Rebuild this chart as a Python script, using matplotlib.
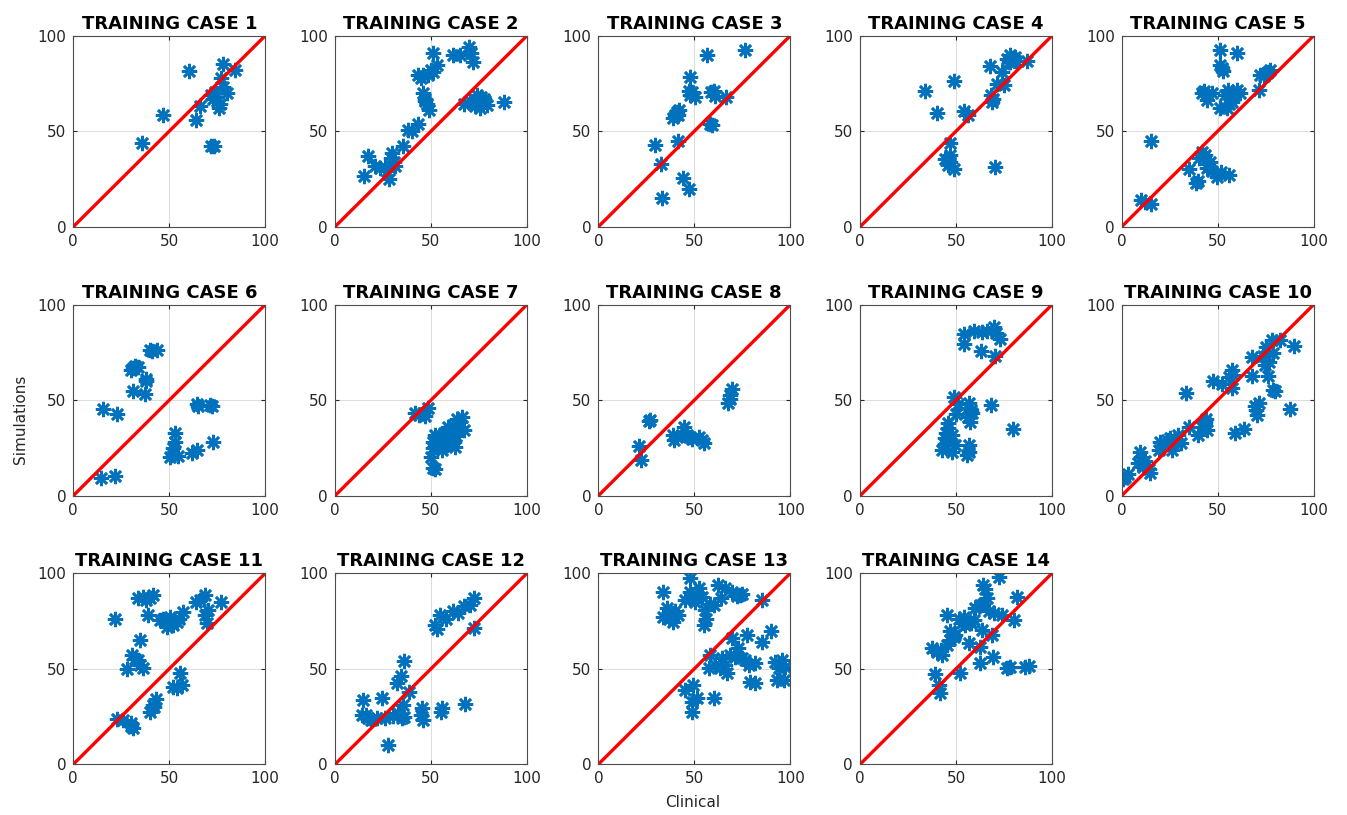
import matplotlib.pyplot as plt

# clinical (x) vs simulated (y) values per training case
case1_x = [36, 47, 60.5, 64, 66, 72, 73.5, 72, 74, 75, 76.5, 76, 78, 77, 78, 80, 84, 73]
case1_y = [43.6, 58.5, 81.5, 56, 63, 42, 42, 69, 70.5, 66, 64, 62, 85, 77.6, 73, 70, 82, 67]

case2_x = [15, 17, 21, 23.5, 26, 28, 29.5, 30.5, 31.5, 35.5, 38, 40, 43.5, 46, 48, 49,
           43.5, 46, 48.7, 51, 53, 51, 61.7, 65, 70, 72, 67, 70.4, 74, 75.7, 77.4, 79, 88, 74,
           45, 47, 50, 73, 76, 78, 29, 27, 47, 71]
case2_y = [26.7, 37, 32, 30.5, 31.5, 25, 38.5, 34, 32, 42, 50.5, 50, 54, 70, 64.5, 61,
           79.4, 79.4, 79.4, 81, 84.6, 90.7, 90, 90, 94, 86, 64.5, 66, 65.5, 62, 67, 63.7, 65.5, 69,
           78, 67, 82, 63, 68, 66, 36, 29, 66, 91]

case3_x = [33.4, 29.6, 32.7, 41.4, 44.3, 47, 39, 41, 41.7, 40, 47.5, 47, 49, 50.4,
           56.5, 76.5, 58.3, 59, 58.8, 60.9, 66.4, 42, 48, 60]
case3_y = [14.8, 42.8, 32.6, 45, 25.3, 20, 56.7, 60, 58.5, 58.5, 78.5, 71, 70.7, 68,
           90, 92.5, 54, 53, 70.7, 68.6, 68, 61, 69, 71]

case4_x = [34, 40.3, 48.7, 46.6, 47, 44.3, 46, 48.7, 54.4, 56, 67.5, 68, 68.7, 70.4,
           71.3, 74.8, 74, 76.5, 78.3, 80, 77.4, 80.9, 87, 79, 78, 81, 47, 69]
case4_y = [71, 59.3, 76.3, 43.6, 37.5, 35.4, 32.3, 30.2, 60.6, 58.5, 84.3, 69, 65.4, 31.4,
           74.5, 74.2, 81, 88, 90, 87.3, 86.4, 89, 86.7, 88.5, 86, 87, 34, 67]

case5_x = [10, 15.3, 15.3, 35.3, 38.8, 40.5, 43.5, 46, 44.3, 49.6, 52, 56, 43, 44.3, 47,
           51.3, 51.3, 52.7, 60, 51.3, 54.8, 53.9, 57.4, 55.6, 60, 61.7, 71.3, 72.2, 75.7, 77.4,
           12, 40, 42, 45, 47, 52.5, 56, 58, 42, 76, 74]
case5_y = [14, 11.7, 44.9, 30, 22.7, 35.8, 37.5, 34, 30.5, 26, 28.8, 27, 71, 66.3, 69.8,
           92.5, 84.6, 81.5, 90.7, 62, 62, 69, 65.4, 71.6, 71.6, 69.8, 71.6, 79.4, 80.3, 82,
           13, 24, 39, 33, 29, 83, 64, 69, 70, 81, 79]

case6_x = [14.3, 21.7, 15.3, 22.6, 29.9, 32, 33.9, 37.9, 31, 37.4, 40, 43.5, 64.3, 72.2,
           73, 53, 52.2, 50.4, 54.8, 61.7, 64.7, 41, 31, 53, 52, 65, 71, 38]
case6_y = [9.1, 10.3, 45.5, 42.7, 65.9, 67.7, 67.2, 61.2, 54.9, 53.1, 76.4, 76, 47.9, 46.7,
           28, 32.7, 25, 20.5, 20.8, 22.2, 23.9, 75.5, 67, 28, 21.5, 47, 47.5, 60]

case7_x = [41.7, 46, 48.7, 47, 51, 50, 51.3, 53, 56.5, 58.3, 62.6, 60.9, 63.5, 65.2, 67,
           54.8, 61.7, 51.3, 44, 52, 55, 57, 59, 60, 64, 66, 53, 56, 62, 52, 58, 63]
case7_y = [43.4, 43.4, 46, 41.6, 14.3, 20.5, 28.3, 30, 31.8, 26.5, 25.5, 33.4, 40.4, 38.6,
           34.3, 27.4, 37.1, 24.8, 42, 14, 29, 33, 36, 30, 35, 41, 26, 24, 28, 32, 27, 31]

case8_x = [21.2, 22.3, 27, 39, 39.6, 44.7, 47, 49, 52.2, 55, 67.8, 68.7, 69.6, 41, 46,
           54, 68.5, 26.5]
case8_y = [25.9, 18.7, 39.7, 31.8, 29.2, 35.8, 30.9, 29.7, 30.9, 27.4, 48.3, 52.6, 56.1,
           30.5, 32, 29, 50.5, 39]

case9_x = [42.6, 44.3, 46, 47.8, 47.8, 49.6, 48.7, 49.9, 55.7, 56.5, 57.4, 58.3, 56.5,
           68.3, 79.6, 53.9, 53.9, 59.1, 63.5, 69.6, 73, 63.1, 70.4, 44, 46, 51, 57, 58,
           45, 56, 71, 66]
case9_y = [24, 30, 35.3, 31.8, 23.1, 26.6, 51.4, 42.7, 21.3, 26.6, 38.8, 43.2, 48.3,
           47.4, 34.8, 79.4, 84.6, 86, 85.5, 88.1, 82, 75.5, 72.9, 27, 38, 48, 23, 45,
           33, 41, 85, 86]

case10_x = [0.9, 3.5, 9.6, 11, 8.7, 14.8, 19.7, 23.5, 26.1, 29.6, 30.8, 33.6, 35.3, 40,
            43.5, 44.3, 47.5, 52.2, 57.4, 57.4, 59.1, 63.5, 67.8, 67.8, 69.6, 71.3, 70.4,
            74.8, 76.5, 78.3, 79.1, 79.1, 82.6, 90, 87.8, 73.9, 27, 20, 2, 10, 12, 14,
            22, 25, 29, 42, 44, 56, 58, 70, 77, 80, 75]
case10_y = [8.7, 11.2, 23.1, 15.2, 17, 11.7, 24, 29.2, 24, 31.8, 27.4, 54, 35.7, 31.8,
            38.8, 34.4, 59.8, 58.4, 65.9, 56.3, 32.7, 34.8, 72.4, 62.4, 46.7, 48.4, 42.3,
            68.5, 62.4, 81.6, 74.7, 55.4, 81.6, 78.5, 45.5, 72.9, 27.4, 28.3, 10, 20, 18,
            14, 27, 30, 29, 36, 40, 62, 63, 45, 70, 55, 78]

case11_x = [21.7, 22.6, 26, 29.9, 31.3, 27.8, 30.4, 33.9, 36.5, 34.8, 33.9, 36.5, 41.7,
            39.1, 40, 41.4, 43.1, 45.2, 48.7, 50.4, 53.9, 57.4, 52.2, 55.7, 56.5, 64,
            68.7, 68.7, 69.6, 76.9, 38, 40, 32, 35, 42, 47, 52, 55, 66, 54, 70, 30]
case11_y = [76.1, 23.7, 23.2, 21.5, 19.2, 49.9, 57.2, 54.6, 50.3, 65.1, 86.9, 87.8, 88.7,
            78.4, 27.6, 31.1, 34.2, 75.6, 72, 77.3, 74.5, 79.9, 40.7, 47.6, 41.5, 85.2,
            88.7, 78.2, 73.8, 85, 86, 87, 55, 52, 30, 76, 73, 76, 86, 40, 81, 20]

case12_x = [14.4, 13.9, 17.4, 21.7, 24.3, 26.1, 27.8, 30.4, 32.2, 34.8, 35.7, 34.3, 35.3,
            38.3, 45.2, 46.1, 55.7, 67.8, 52.2, 54.8, 61.7, 67, 72.2, 72.2, 70.4, 16, 19,
            33, 36, 45, 55, 53, 58, 64]
case12_y = [33.7, 25.8, 24.1, 24.1, 34.6, 24.1, 10.2, 25.1, 42.6, 24.1, 53.9, 46.1, 31.1,
            38, 29.7, 23.2, 29.7, 31.4, 73.1, 78.4, 80.1, 82.7, 87.1, 71.4, 83.6, 26, 23,
            27, 25, 26, 27.5, 71, 76, 79]

case13_x = [33.9, 33.9, 35.7, 38.3, 39.1, 41.7, 45.2, 47.8, 50.4, 52.2, 53.9, 54.8, 55.7,
            60, 62.6, 66.1, 69.6, 73.9, 85.2, 44.9, 49.1, 48.7, 51.3, 48.7, 60, 57.4,
            58.3, 63.5, 67, 64.3, 68.7, 69.6, 73, 74.8, 78.3, 77.4, 81.7, 79.1, 81.7,
            85.2, 90, 92.2, 95.7, 93.9, 93, 96.5, 76.5, 37, 40, 48, 51, 56, 58, 64,
            72, 75, 61, 66, 71, 97]
case13_y = [90.4, 77.3, 81.7, 79, 74.7, 78.2, 86, 97.4, 85.2, 92.1, 87.8, 73, 80.8,
            83.4, 93.9, 92.1, 90.4, 88.7, 86, 38.9, 41.5, 32.8, 34.6, 27.6, 34.6, 50.3,
            57.2, 50.3, 47.6, 55.5, 57.2, 66, 60.7, 55.5, 52, 67.7, 52.9, 43.3, 42.4,
            63.9, 69.8, 53.8, 54.6, 50.3, 44.2, 44.2, 54.6, 76, 80, 90, 88, 76, 84, 87,
            88, 89, 52, 52, 56, 51]

case14_x = [39.1, 40.9, 41.7, 37.4, 40, 42.6, 45.2, 47, 48.7, 45.2, 49.6, 52.2, 51.3,
            53.9, 54.8, 56.5, 59.1, 60, 62.6, 64.3, 62.6, 62.6, 63.5, 66.1, 67, 68.7,
            69.1, 72.2, 73.9, 76.5, 80, 81.7, 87.8, 65, 58, 53, 47, 42, 64, 70, 78, 86]
case14_y = [47.3, 41.5, 37.2, 60.7, 59, 57.2, 62.5, 65.1, 66.8, 78.4, 67.7, 48, 76.3,
            77.1, 72.8, 63.4, 75.6, 81.7, 83.4, 93.9, 52.9, 61.6, 70.2, 86.9, 80, 67.7,
            56.4, 97.8, 78.2, 50.6, 75.6, 87.4, 51.2, 92, 74, 74, 70, 60, 84, 79, 51, 51]

cases = [(case1_x, case1_y), (case2_x, case2_y), (case3_x, case3_y), (case4_x, case4_y),
         (case5_x, case5_y), (case6_x, case6_y), (case7_x, case7_y), (case8_x, case8_y),
         (case9_x, case9_y), (case10_x, case10_y), (case11_x, case11_y), (case12_x, case12_y),
         (case13_x, case13_y), (case14_x, case14_y)]

fig = plt.figure(figsize=(13.47, 8.15), dpi=100)

lefts = [0.0544, 0.2487, 0.4442, 0.6385, 0.8327]
bottoms = [0.7218, 0.3918, 0.0622]
w, h = 0.1425, 0.2344

for i, (x, y) in enumerate(cases):
    ax = fig.add_axes([lefts[i % 5], bottoms[i // 5], w, h])
    ax.plot(x, y, linestyle="none", marker=(8, 2, 0), markersize=11,
            markeredgewidth=1.9, color="#0072BD")
    ax.plot([0, 100], [0, 100], color="red", linewidth=2.4)
    ax.set_xlim(0, 100)
    ax.set_ylim(0, 100)
    ax.set_xticks([0, 50, 100])
    ax.set_yticks([0, 50, 100])
    ax.grid(True, color="#dcdcdc", linewidth=0.7)
    ax.set_axisbelow(True)
    ax.tick_params(direction="in", length=3, labelsize=11, colors="#262626",
                   top=True, right=True, pad=5)
    for s in ax.spines.values():
        s.set_color("#4d4d4d")
        s.set_linewidth(0.8)
    ax.set_title("TRAINING CASE %d" % (i + 1), fontsize=13, fontweight="bold", pad=5)

fig.text(0.514, 0.015, "Clinical", ha="center", va="center", fontsize=11, color="#262626")
fig.text(0.015, 0.485, "Simulations", ha="center", va="center", rotation=90,
         fontsize=11, color="#262626")

fig.savefig("out.png", dpi=100)
